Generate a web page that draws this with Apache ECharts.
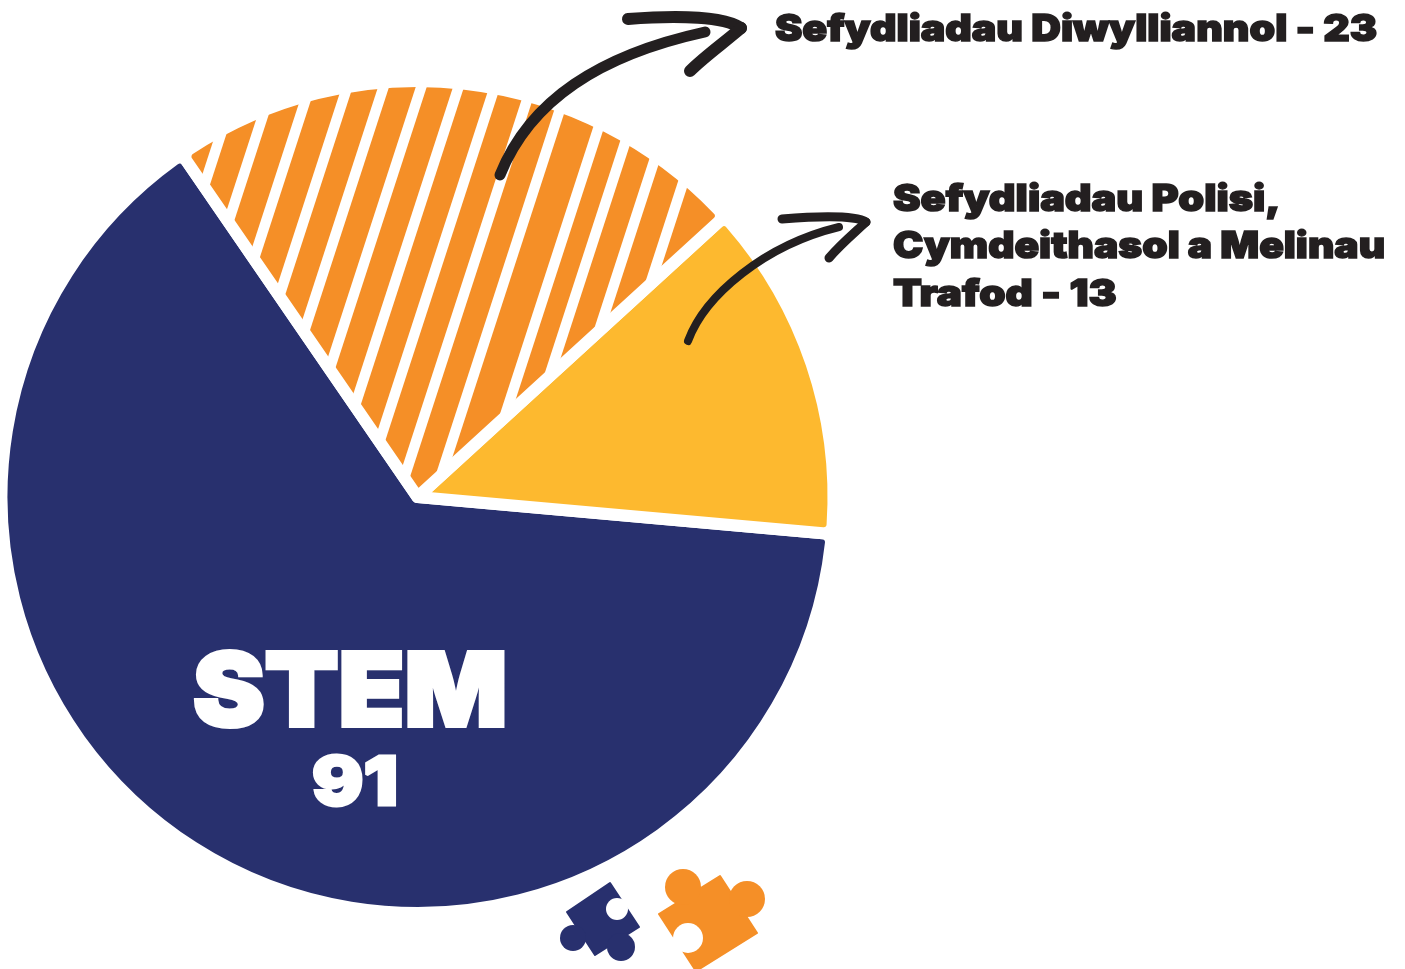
<!DOCTYPE html>
<html>
<head>
<meta charset="utf-8">
<title>STEM</title>
<script src="https://cdn.jsdelivr.net/npm/echarts@6/dist/echarts.min.js"></script>
<style>
  html, body { margin: 0; padding: 0; background: #fff; }
  #chart { width: 1405px; height: 969px; }
</style>
</head>
<body>
<div id="chart"></div>
<script>
// share of the circle each slice takes in the picture (%), going counter-clockwise
let categories = ['STEM', 'Sefydliadau Polisi, Cymdeithasol a Melinau Trafod', 'Sefydliadau Diwylliannol'];
let sliceShares = [64, 13.2, 22.8];
// numbers printed on the labels
let printedCounts = [91, 13, 23];
let sliceColors = ['#28306E', '#FDB92F', '#F58F27'];

let ink = '#231F20';
let heavy = '900 37px Inter, sans-serif';

// orange/white diagonal stripes for the third slice, they are not evenly spaced
let stripeFill = function () {
  let starts = [259, 295, 332.5, 370, 406.3, 444, 481.3, 517.5, 554, 590, 634.5, 666, 701, 737];
  let c = document.createElement('canvas');
  c.width = 900;
  c.height = 600;
  let ctx = c.getContext('2d');
  ctx.fillStyle = sliceColors[2];
  ctx.fillRect(0, 0, 900, 600);
  ctx.fillStyle = '#fff';
  starts.forEach(function (x) {
    ctx.beginPath();
    ctx.moveTo(x, 0);
    ctx.lineTo(x + 11, 0);
    ctx.lineTo(x + 11 - 195, 600);
    ctx.lineTo(x - 195, 600);
    ctx.closePath();
    ctx.fill();
  });
  return c;
};

let curve = function (x1, y1, cpx1, cpy1, cpx2, cpy2, x2, y2, width) {
  return {
    type: 'bezierCurve',
    z: 100,
    silent: true,
    shape: {x1: x1, y1: y1, cpx1: cpx1, cpy1: cpy1, cpx2: cpx2, cpy2: cpy2, x2: x2, y2: y2},
    style: {stroke: ink, lineWidth: width, lineCap: 'round', fill: null}
  };
};

let text = function (str, x, y, font, color, stretch, weight) {
  return {
    type: 'text',
    z: 100,
    silent: true,
    x: x,
    y: y,
    scaleX: stretch,
    style: {
      x: 0, y: 0, text: str, font: font, fill: color,
      stroke: color, lineWidth: weight, lineJoin: 'round',
      textAlign: 'left', textVerticalAlign: 'bottom'
    }
  };
};

let blob = function (cx, cy, r, color) {
  return {type: 'circle', z: 100, silent: true, shape: {cx: cx, cy: cy, r: r}, style: {fill: color}};
};

let body = function (points, color) {
  return {
    type: 'polygon',
    z: 100,
    silent: true,
    shape: {points: points},
    style: {fill: color, stroke: color, lineWidth: 2, lineJoin: 'round'}
  };
};

let option = {
  backgroundColor: '#fff',
  animation: false,
  series: [
    {
      type: 'pie',
      center: [417.5, 497],
      radius: [0, 416],
      startAngle: 124.5,
      clockwise: false,
      silent: true,
      label: {show: false},
      labelLine: {show: false},
      itemStyle: {borderColor: '#fff', borderWidth: 12, borderRadius: 9},
      data: categories.map(function (name, i) {
        return {
          name: name,
          value: sliceShares[i],
          itemStyle: {color: i === 2 ? {image: stripeFill(), repeat: 'no-repeat'} : sliceColors[i]}
        };
      })
    }
  ],
  graphic: {
    elements: [
      // arrow to the striped slice
      curve(500, 175, 530, 100, 600, 55, 705, 32, 11),
      curve(628, 19, 680, 15, 725, 17, 741, 28, 12),
      curve(741, 28, 725, 42, 705, 56, 690, 71, 12),
      // arrow to the yellow slice
      curve(688, 341, 705, 295, 765, 245, 839, 227, 8),
      curve(782, 219, 820, 216, 855, 215, 866, 222, 9),
      curve(866, 222, 852, 235, 840, 245, 829, 258, 9),

      text(categories[2] + ' - ' + printedCounts[2], 775, 48, heavy, ink, 1.11, 1.5),
      text('Sefydliadau Polisi,', 893, 218, heavy, ink, 1.12, 1.5),
      text('Cymdeithasol a Melinau', 893, 265, heavy, ink, 1.1, 1.5),
      text('Trafod - ' + printedCounts[1], 893, 313, heavy, ink, 1.14, 1.5),
      text(categories[0], 193, 746, '900 102px Inter, sans-serif', '#fff', 1.055, 4),
      text(String(printedCounts[0]), 312, 819, '900 68px Inter, sans-serif', '#fff', 1.12, 3),

      // puzzle pieces
      body([[567, 912], [610, 883], [639, 927], [595, 955]], sliceColors[0]),
      blob(573, 938, 13, sliceColors[0]),
      blob(621, 947, 14, sliceColors[0]),
      blob(617, 909, 11, '#fff'),
      body([[659, 914], [720, 876], [757, 933], [696, 971]], sliceColors[2]),
      blob(683, 887, 18, sliceColors[2]),
      blob(747, 899, 18, sliceColors[2]),
      blob(688, 938, 15, '#fff')
    ]
  }
};

let myChart = echarts.init(document.getElementById('chart'));
myChart.setOption(option);
</script>
</body>
</html>
